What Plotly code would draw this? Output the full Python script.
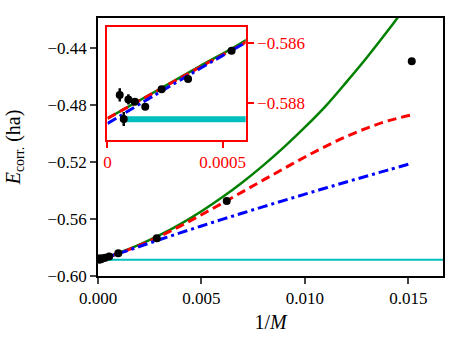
import plotly.graph_objects as go

# data
inv_m = [0.0000532, 0.0000705, 0.0000908, 0.000119, 0.000164, 0.000235,
         0.00035, 0.000539, 0.00098, 0.00284, 0.00622, 0.01516]
e_corr = [-0.58772, -0.58852, -0.58787, -0.58795, -0.58811, -0.58753,
          -0.58719, -0.58625, -0.5841, -0.5736, -0.5473, -0.4494]
e_err = [0.00022, 0.00023, 0.00017, 0.0001, 0.00006, 0.00004,
         0.00003, 0.00003, 0.00003, 0.00003, 0.00003, 0.00003]

x_fit = [0, 0.0002, 0.0004, 0.0006, 0.001, 0.002, 0.003, 0.004, 0.005, 0.006,
         0.007, 0.008, 0.009, 0.010, 0.011, 0.012, 0.013, 0.014, 0.0151]
fit_green = [-0.5885, -0.58764, -0.58677, -0.58590, -0.5838, -0.5780, -0.5712,
             -0.5634, -0.5546, -0.5448, -0.5340, -0.5222, -0.5094, -0.4956,
             -0.4808, -0.4640, -0.4465, -0.4280, -0.4065]
fit_red = [-0.58850, -0.58765, -0.58680, -0.58597, -0.5842, -0.5785, -0.5720,
           -0.5648, -0.5570, -0.5490, -0.5408, -0.5326, -0.5245, -0.5165,
           -0.5090, -0.5022, -0.4962, -0.4912, -0.4872]
fit_blue = [-0.58867, -0.58775, -0.58685, -0.58598, -0.5843, -0.5793, -0.5744,
            -0.5696, -0.5649, -0.5603, -0.5558, -0.55135, -0.54695, -0.5426,
            -0.5383, -0.53405, -0.52985, -0.5257, -0.5212]

exact_x = [0.00007, 0.02]
exact_e = [-0.58853, -0.58853]

FONT = "Liberation Serif"

fig = go.Figure()

for xa, ya, cw in [("x", "y", 2), ("x2", "y2", 6)]:
    fig.add_trace(go.Scatter(x=exact_x, y=exact_e, mode="lines",
                             line=dict(color="#00bfbf", width=cw),
                             xaxis=xa, yaxis=ya, showlegend=False))
    fig.add_trace(go.Scatter(x=x_fit, y=fit_green, mode="lines", line_shape="spline",
                             line=dict(color="#008000", width=2.5),
                             xaxis=xa, yaxis=ya, showlegend=False))
    fig.add_trace(go.Scatter(x=x_fit, y=fit_red, mode="lines", line_shape="spline",
                             line=dict(color="#ff0000", width=3, dash="9px,5px"),
                             xaxis=xa, yaxis=ya, showlegend=False))
    fig.add_trace(go.Scatter(x=x_fit, y=fit_blue, mode="lines", line_shape="spline",
                             line=dict(color="#0000ff", width=3, dash="10px,4px,3px,4px"),
                             xaxis=xa, yaxis=ya, showlegend=False))
    fig.add_trace(go.Scatter(x=inv_m, y=e_corr, mode="markers",
                             marker=dict(color="black", size=8),
                             error_y=dict(type="data", array=e_err, color="black",
                                          thickness=2.5, width=0),
                             xaxis=xa, yaxis=ya, showlegend=False))

fig.update_layout(
    width=463, height=345,
    margin=dict(l=98, r=20, t=18, b=69),
    paper_bgcolor="white", plot_bgcolor="white",
    font=dict(family=FONT, size=17, color="black"),
    xaxis=dict(range=[0, 0.01667], tickvals=[0, 0.005, 0.010, 0.015],
               tickformat=".3f", showgrid=False, zeroline=False, automargin=False,
               showline=True, mirror=True, linecolor="black", linewidth=1.5,
               ticks="outside", ticklen=6, tickwidth=1.5,
               title=dict(text="1/<i>M</i>", standoff=8)),
    yaxis=dict(range=[-0.60, -0.419], tickvals=[-0.60, -0.56, -0.52, -0.48, -0.44],
               tickformat=".2f", showgrid=False, zeroline=False, automargin=False,
               showline=True, mirror=True, linecolor="black", linewidth=1.5,
               ticks="outside", ticklen=6, tickwidth=1.5,
               title=dict(text="<i>E</i><sub>corr.</sub> (ha)", standoff=22)),
    xaxis2=dict(domain=[0.0275, 0.428], anchor="y2", range=[0, 0.0006],
                tickvals=[0, 0.0005], ticktext=["0", "0.0005"], automargin=False,
                showgrid=False, zeroline=False, showline=True, mirror=True,
                linecolor="#ff0000", linewidth=2, ticks="outside", ticklen=6,
                tickwidth=1.5, tickcolor="#ff0000",
                tickfont=dict(color="#ff0000", size=17)),
    yaxis2=dict(domain=[0.527, 0.964], anchor="x2", side="right",
                range=[-0.58922, -0.58547], tickvals=[-0.586, -0.588],
                ticktext=["\u22120.586", "\u22120.588"], automargin=False,
                showgrid=False, zeroline=False, showline=True, mirror=True,
                linecolor="#ff0000", linewidth=2, ticks="outside", ticklen=6,
                tickwidth=1.5, tickcolor="#ff0000",
                tickfont=dict(color="#ff0000", size=17)),
)

# drop the default 8px page margin so the figure sits at the window origin
fig.write_html("out.html", config={"displayModeBar": False},
               post_script="document.body.style.margin='0';")
